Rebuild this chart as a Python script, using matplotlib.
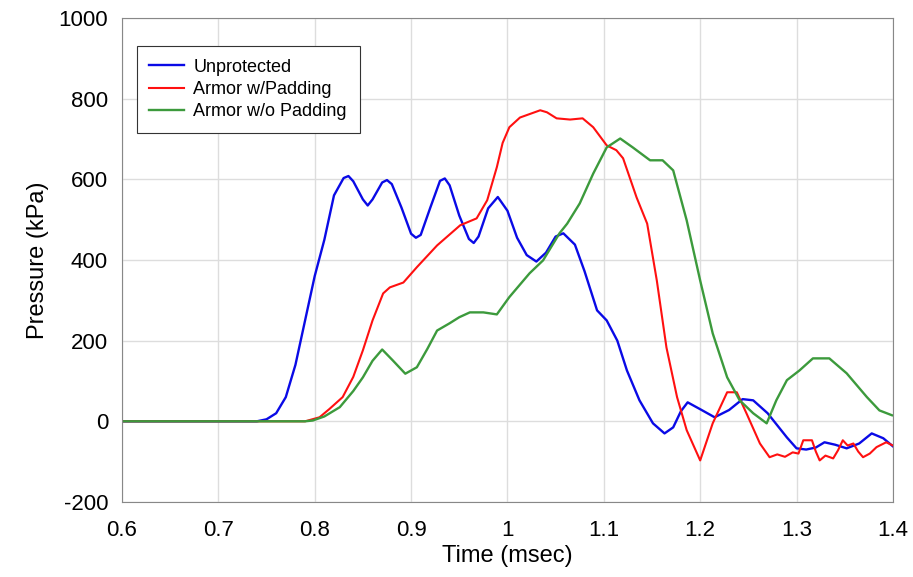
import numpy as np
import matplotlib.pyplot as plt

plt.rcParams['font.family'] = ['Liberation Sans', 'DejaVu Sans']
plt.rcParams['axes.unicode_minus'] = False

# pressure traces, time in msec / pressure in kPa
t_unprot = [0.60, 0.74, 0.75, 0.76, 0.77, 0.78, 0.79, 0.80, 0.81, 0.82, 0.83, 0.835,
            0.84, 0.85, 0.855, 0.86, 0.87, 0.875, 0.88, 0.89, 0.90, 0.905, 0.91,
            0.92, 0.93, 0.935, 0.94, 0.95, 0.96, 0.965, 0.97, 0.98, 0.99, 1.00,
            1.01, 1.02, 1.03, 1.04, 1.05, 1.058, 1.07, 1.08, 1.093, 1.103, 1.114,
            1.124, 1.137, 1.151, 1.163, 1.172, 1.18, 1.187, 1.20, 1.215, 1.23,
            1.244, 1.255, 1.27, 1.28, 1.29, 1.30, 1.31, 1.32, 1.329, 1.34, 1.352,
            1.365, 1.378, 1.39, 1.40]
p_unprot = [0, 0, 5, 20, 60, 140, 250, 360, 450, 560, 603, 608,
            595, 550, 535, 550, 592, 598, 588, 530, 465, 455, 462,
            530, 596, 602, 585, 510, 452, 442, 458, 528, 556, 522,
            455, 412, 396, 418, 458, 466, 438, 372, 275, 250, 200,
            126, 52, -5, -30, -15, 25, 47, 30, 10, 28,
            55, 52, 20, -10, -40, -67, -70, -65, -52, -58, -67,
            -55, -30, -42, -62]

t_pad = [0.60, 0.79, 0.805, 0.815, 0.829, 0.84, 0.85, 0.86, 0.871, 0.878, 0.892,
         0.906, 0.927, 0.951, 0.968, 0.979, 0.989, 0.995, 1.002, 1.013, 1.034,
         1.041, 1.051, 1.065, 1.078, 1.089, 1.103, 1.113, 1.12, 1.134, 1.145,
         1.155, 1.165, 1.176, 1.186, 1.20, 1.213, 1.228, 1.238, 1.248, 1.262,
         1.272, 1.28, 1.288, 1.296, 1.302, 1.307, 1.316, 1.32, 1.324, 1.33,
         1.338, 1.343, 1.348, 1.353, 1.359, 1.364, 1.369, 1.376, 1.383, 1.393,
         1.40]
p_pad = [0, 0, 10, 30, 60, 110, 176, 250, 317, 332, 344,
         382, 436, 486, 503, 548, 630, 690, 729, 753, 771,
         766, 751, 748, 751, 729, 684, 672, 652, 555, 490,
         349, 183, 60, -22, -97, -5, 72, 72, 20, -55,
         -89, -82, -88, -77, -80, -47, -47, -75, -97, -85,
         -92, -72, -47, -60, -55, -75, -89, -80, -64, -52,
         -60]

t_nopad = [0.60, 0.79, 0.798, 0.81, 0.826, 0.84, 0.85, 0.86, 0.87, 0.881, 0.894,
           0.906, 0.917, 0.927, 0.94, 0.95, 0.961, 0.975, 0.989, 1.002, 1.023,
           1.037, 1.054, 1.062, 1.075, 1.089, 1.103, 1.117, 1.13, 1.148, 1.161,
           1.172, 1.186, 1.20, 1.213, 1.228, 1.241, 1.255, 1.269, 1.279, 1.29,
           1.303, 1.317, 1.334, 1.352, 1.373, 1.386, 1.399]
p_nopad = [0, 0, 2, 12, 35, 75, 109, 150, 178, 151, 118,
           134, 180, 225, 243, 258, 270, 270, 265, 308, 367,
           399, 466, 490, 540, 614, 679, 701, 679, 647, 647,
           622, 498, 349, 218, 109, 52, 20, -5, 52, 102,
           126, 156, 156, 119, 60, 27, 15]

series = ['Unprotected', 'Armor w/Padding', 'Armor w/o Padding']

fig = plt.figure(figsize=(9.13, 5.77), dpi=100)
ax = fig.add_axes([0.1336, 0.13, 0.8444, 0.839])

ax.plot(t_unprot, p_unprot, color='#0a0ae6', lw=1.7, label=series[0])
ax.plot(t_pad, p_pad, color='#ff1010', lw=1.5, label=series[1])
ax.plot(t_nopad, p_nopad, color='#3c9a3c', lw=1.7, label=series[2])

ax.set_xlim(0.6, 1.4)
ax.set_ylim(-200, 1000)
ax.set_xticks(np.arange(0.6, 1.41, 0.1))
ax.set_xticklabels(['0.6', '0.7', '0.8', '0.9', '1', '1.1', '1.2', '1.3', '1.4'])
ax.set_yticks(range(-200, 1001, 200))
ax.tick_params(length=0, labelsize=16)
ax.tick_params(axis='x', pad=13)
ax.tick_params(axis='y', pad=10)
ax.grid(True, color='#dddddd', lw=1)
for s in ax.spines.values():
    s.set_color('#888888')

ax.set_xlabel('Time (msec)', fontsize=17, labelpad=3)
ax.set_ylabel('Pressure (kPa)', fontsize=17, labelpad=7)

leg = ax.legend(loc='upper left', bbox_to_anchor=(0.019, 0.942), fontsize=13,
                fancybox=False, framealpha=1, edgecolor='#333333',
                handlelength=1.9, handletextpad=0.55, borderpad=0.7,
                labelspacing=0.3, borderaxespad=0)
leg.get_frame().set_linewidth(0.8)

fig.savefig('out.png', dpi=100)
